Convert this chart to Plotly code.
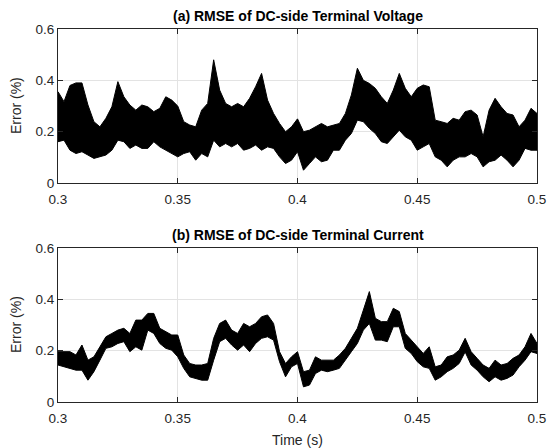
import plotly.graph_objects as go

# time axis (s), sampled every 0.0025 s
time_s = [round(0.3 + 0.0025 * k, 4) for k in range(81)]

# (a) DC-side terminal voltage RMSE envelope (%)
volt_upper = [0.356, 0.317, 0.380, 0.390, 0.390, 0.304, 0.239, 0.219, 0.252, 0.297,
              0.395, 0.336, 0.304, 0.284, 0.304, 0.297, 0.278, 0.291, 0.336, 0.323,
              0.300, 0.239, 0.226, 0.219, 0.284, 0.310, 0.480, 0.362, 0.310, 0.297,
              0.310, 0.297, 0.330, 0.375, 0.427, 0.323, 0.271, 0.232, 0.200, 0.219,
              0.250, 0.200, 0.206, 0.219, 0.232, 0.219, 0.226, 0.232, 0.271, 0.343,
              0.447, 0.400, 0.388, 0.369, 0.336, 0.310, 0.362, 0.427, 0.369, 0.336,
              0.369, 0.382, 0.375, 0.245, 0.239, 0.232, 0.252, 0.245, 0.278, 0.284,
              0.265, 0.180, 0.284, 0.330, 0.297, 0.271, 0.265, 0.219, 0.245, 0.291,
              0.271]
volt_lower = [0.161, 0.167, 0.128, 0.115, 0.122, 0.109, 0.096, 0.102, 0.109, 0.128,
              0.167, 0.161, 0.135, 0.148, 0.135, 0.135, 0.161, 0.141, 0.128, 0.115,
              0.102, 0.115, 0.122, 0.089, 0.115, 0.102, 0.167, 0.141, 0.154, 0.141,
              0.154, 0.128, 0.135, 0.148, 0.128, 0.141, 0.135, 0.102, 0.076, 0.089,
              0.122, 0.050, 0.076, 0.102, 0.083, 0.089, 0.128, 0.128, 0.167, 0.193,
              0.245, 0.239, 0.213, 0.193, 0.161, 0.154, 0.180, 0.206, 0.180, 0.167,
              0.128, 0.141, 0.154, 0.102, 0.089, 0.063, 0.089, 0.102, 0.102, 0.115,
              0.102, 0.063, 0.083, 0.089, 0.109, 0.089, 0.063, 0.089, 0.135, 0.128,
              0.128]

# (b) DC-side terminal current RMSE envelope (%)
curr_upper = [0.196, 0.196, 0.196, 0.183, 0.222, 0.163, 0.176, 0.215, 0.254, 0.267,
              0.280, 0.287, 0.267, 0.319, 0.319, 0.345, 0.345, 0.287, 0.274, 0.261,
              0.261, 0.183, 0.150, 0.144, 0.144, 0.150, 0.248, 0.306, 0.319, 0.280,
              0.267, 0.306, 0.293, 0.306, 0.332, 0.339, 0.306, 0.196, 0.150, 0.176,
              0.196, 0.118, 0.124, 0.176, 0.163, 0.163, 0.163, 0.183, 0.209, 0.248,
              0.287, 0.358, 0.430, 0.326, 0.313, 0.313, 0.365, 0.352, 0.267, 0.241,
              0.215, 0.189, 0.215, 0.137, 0.144, 0.176, 0.183, 0.202, 0.248, 0.196,
              0.170, 0.144, 0.131, 0.163, 0.144, 0.150, 0.170, 0.183, 0.215, 0.267,
              0.228]
curr_lower = [0.144, 0.137, 0.131, 0.124, 0.124, 0.085, 0.118, 0.163, 0.209, 0.215,
              0.228, 0.235, 0.196, 0.215, 0.202, 0.280, 0.267, 0.228, 0.209, 0.202,
              0.176, 0.131, 0.098, 0.092, 0.085, 0.085, 0.163, 0.235, 0.248, 0.222,
              0.202, 0.222, 0.196, 0.228, 0.248, 0.254, 0.241, 0.157, 0.098, 0.137,
              0.150, 0.059, 0.066, 0.111, 0.124, 0.118, 0.124, 0.131, 0.163, 0.196,
              0.228, 0.280, 0.306, 0.241, 0.241, 0.235, 0.293, 0.293, 0.209, 0.189,
              0.157, 0.137, 0.131, 0.085, 0.098, 0.118, 0.131, 0.150, 0.195, 0.144,
              0.124, 0.098, 0.079, 0.098, 0.085, 0.092, 0.105, 0.137, 0.163, 0.196,
              0.189]

x_ticks = [0.3, 0.35, 0.4, 0.45, 0.5]
x_tick_text = ["0.3", "0.35", "0.4", "0.45", "0.5"]
y_ticks = [0, 0.2, 0.4, 0.6]
y_tick_text = ["0", "0.2", "0.4", "0.6"]

FONT = "Liberation Sans, Arial, Helvetica, sans-serif"
AX = "#262626"

fig = go.Figure()
for up, lo, xa, ya in [(volt_upper, volt_lower, "x", "y"), (curr_upper, curr_lower, "x2", "y2")]:
    fig.add_trace(go.Scatter(
        x=time_s + time_s[::-1], y=up + lo[::-1],
        fill="toself", fillcolor="black", mode="lines",
        line=dict(color="black", width=1), xaxis=xa, yaxis=ya,
        hoverinfo="skip", showlegend=False))

xcommon = dict(range=[0.3, 0.5], tickvals=x_ticks, ticktext=x_tick_text,
               showgrid=True, gridcolor="#e3e3e3", gridwidth=1,
               ticks="inside", ticklen=5, tickcolor=AX, tickwidth=1,
               showline=True, linecolor=AX, linewidth=1, mirror="ticks",
               zeroline=False, ticklabelstandoff=4, automargin=False,
               tickfont=dict(family=FONT, size=13.5, color=AX))
ycommon = dict(range=[0, 0.6], tickvals=y_ticks, ticktext=y_tick_text,
               showgrid=True, gridcolor="#e3e3e3", gridwidth=1,
               ticks="inside", ticklen=5, tickcolor=AX, tickwidth=1,
               showline=True, linecolor=AX, linewidth=1, mirror="ticks",
               zeroline=False, automargin=False,
               tickfont=dict(family=FONT, size=13.5, color=AX))

TOP_DOM = [0.587, 1]
BOT_DOM = [0, 0.413]

def ylabel(ymid):
    return dict(text="Error (%)", x=0, y=ymid, xref="paper", yref="paper",
                xanchor="center", yanchor="middle", xshift=-42, textangle=-90,
                showarrow=False, font=dict(family=FONT, size=14, color=AX))

fig.update_layout(
    width=547, height=448,
    margin=dict(l=58, r=10, t=29, b=46),
    plot_bgcolor="white", paper_bgcolor="white",
    xaxis=dict(domain=[0, 1], anchor="y", **xcommon),
    yaxis=dict(domain=TOP_DOM, anchor="x", **ycommon),
    xaxis2=dict(domain=[0, 1], anchor="y2", **xcommon),
    yaxis2=dict(domain=BOT_DOM, anchor="x2", **ycommon),
    annotations=[
        dict(text="<b>(a) RMSE of DC-side Terminal Voltage</b>", x=0.5, y=TOP_DOM[1], xref="paper", yref="paper",
             xanchor="center", yanchor="bottom", yshift=3, showarrow=False,
             font=dict(family=FONT, size=14, color="black")),
        dict(text="<b>(b) RMSE of DC-side Terminal Current</b>", x=0.5, y=BOT_DOM[1], xref="paper", yref="paper",
             xanchor="center", yanchor="bottom", yshift=3, showarrow=False,
             font=dict(family=FONT, size=14, color="black")),
        ylabel(sum(TOP_DOM) / 2),
        ylabel(sum(BOT_DOM) / 2),
        dict(text="Time (s)", x=0.5, y=0, xref="paper", yref="paper",
             xanchor="center", yanchor="middle", yshift=-38, showarrow=False,
             font=dict(family=FONT, size=14, color=AX)),
    ],
)

fig.write_html("out.html")
